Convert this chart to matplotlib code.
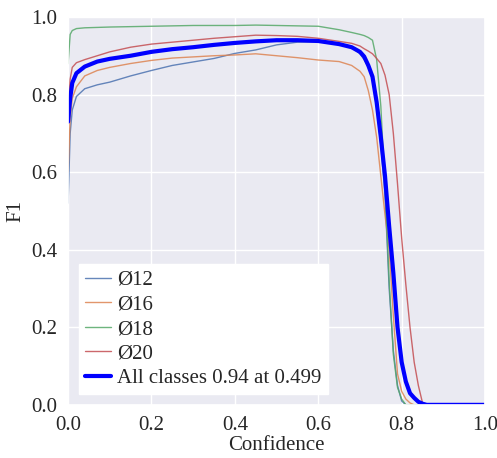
import matplotlib
matplotlib.use("Agg")
import matplotlib.pyplot as plt
import seaborn as sns

# confidence grid shared by all curves
conf = [0.0, 0.005, 0.01, 0.02, 0.04, 0.07, 0.1, 0.15, 0.2, 0.25, 0.3, 0.35, 0.4, 0.45,
        0.5, 0.55, 0.6, 0.65, 0.68, 0.7, 0.71, 0.72, 0.73, 0.74, 0.75, 0.76, 0.77, 0.78, 0.79,
        0.8, 0.81, 0.82, 0.83, 0.84, 0.85, 0.86, 0.87, 1.0]

f1_d12 = [0.52, 0.70, 0.76, 0.795, 0.815, 0.825, 0.832, 0.848, 0.862, 0.875, 0.884, 0.893, 0.906, 0.915,
          0.928, 0.935, 0.936, 0.93, 0.922, 0.905, 0.89, 0.87, 0.84, 0.77, 0.67, 0.54, 0.30, 0.14, 0.05,
          0.01, 0.0, 0.0, 0.0, 0.0, 0.0, 0.0, 0.0, 0.0]
f1_d16 = [0.60, 0.74, 0.79, 0.82, 0.848, 0.862, 0.87, 0.88, 0.888, 0.894, 0.897, 0.90, 0.902, 0.905,
          0.90, 0.895, 0.889, 0.885, 0.875, 0.86, 0.846, 0.81, 0.76, 0.69, 0.59, 0.49, 0.40, 0.23, 0.08,
          0.035, 0.015, 0.005, 0.0, 0.0, 0.0, 0.0, 0.0, 0.0]
f1_d18 = [0.88, 0.955, 0.965, 0.97, 0.972, 0.973, 0.974, 0.975, 0.976, 0.977, 0.978, 0.978, 0.978, 0.979,
          0.978, 0.977, 0.976, 0.967, 0.96, 0.955, 0.952, 0.947, 0.94, 0.89, 0.77, 0.56, 0.32, 0.13, 0.045,
          0.015, 0.0, 0.0, 0.0, 0.0, 0.0, 0.0, 0.0, 0.0]
f1_d20 = [0.76, 0.84, 0.87, 0.882, 0.89, 0.90, 0.91, 0.922, 0.93, 0.935, 0.94, 0.945, 0.949, 0.953,
          0.952, 0.95, 0.945, 0.937, 0.932, 0.925, 0.918, 0.912, 0.905, 0.893, 0.88, 0.85, 0.80, 0.70, 0.57,
          0.43, 0.31, 0.20, 0.11, 0.05, 0.005, 0.0, 0.0, 0.0]
f1_all = [0.73, 0.79, 0.83, 0.855, 0.872, 0.885, 0.892, 0.90, 0.91, 0.917, 0.922, 0.928, 0.933, 0.937,
          0.94, 0.94, 0.938, 0.93, 0.922, 0.91, 0.898, 0.875, 0.846, 0.78, 0.69, 0.59, 0.46, 0.34, 0.20,
          0.11, 0.06, 0.03, 0.018, 0.008, 0.003, 0.0, 0.0, 0.0]

labels = ["Ø12", "Ø16", "Ø18", "Ø20"]
ticks = [0.0, 0.2, 0.4, 0.6, 0.8, 1.0]

sns.set_theme(style="darkgrid")
plt.rcParams["font.family"] = "serif"
plt.rcParams["font.serif"] = ["Liberation Serif", "DejaVu Serif"]

pal = sns.color_palette("deep")

fig = plt.figure(figsize=(4.97, 4.58), dpi=100)
ax = fig.add_axes([0.137, 0.116, 0.839, 0.847])

for ys, lab, c in zip([f1_d12, f1_d16, f1_d18, f1_d20], labels, pal[:4]):
    ax.plot(conf, ys, color=c, linewidth=1, alpha=0.85, label=lab)
ax.plot(conf, f1_all, color="blue", linewidth=3, label="All classes 0.94 at 0.499")

ax.set_xlim(0, 1)
ax.set_ylim(0, 1)
ax.set_xticks(ticks)
ax.set_yticks(ticks)
ax.tick_params(labelsize=15, pad=2)
ax.set_xlabel("Confidence", fontsize=15, labelpad=1)
ax.set_ylabel("F1", fontsize=15)

leg = ax.legend(loc="lower left", fontsize=15, handlelength=1.25, handletextpad=0.3,
                labelspacing=0.24, borderpad=0.3, fancybox=False, framealpha=1,
                facecolor="white", edgecolor="white")

plt.savefig("out.png", dpi=100)
